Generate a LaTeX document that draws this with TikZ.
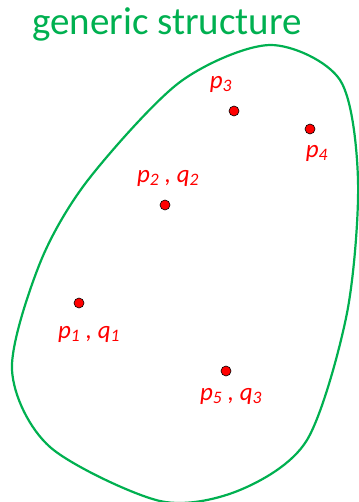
\documentclass[tikz,border=0pt]{standalone}
\usepackage{fontspec}
\setmainfont{Carlito}
\usepackage{xcolor}
\usepackage{tikz}
\definecolor{officegreen}{RGB}{0,176,80}
\tikzstyle{pt} = [circle, fill=red, draw=black, line width=0.6pt, inner sep=0pt, minimum size=10pt]
\tikzstyle{lab} = [text=red, font=\fontsize{25}{30}\selectfont\itshape, inner sep=0pt]

\begin{document}
\begin{tikzpicture}[x=1pt, y=-1pt, node distance=27pt]
    \useasboundingbox (0,0) rectangle (358,502);
    \node (title) at (167,24) [text=officegreen, font=\fontsize{39}{46}\selectfont] {generic structure};

    % the set
    \draw[officegreen, line width=2.2pt] plot[smooth cycle] coordinates {
        (270,45) (340,80) (358,180) (347,313) (307,440) (240,490) (160,501)
        (50,447) (12,370) (40,263) (88,180) (180,82)};

    % points
    \node (p1) at (79,303) [pt] {};
    \node (p2) at (165,205) [pt] {};
    \node (p3) at (234,111) [pt] {};
    \node (p4) at (310,129) [pt] {};
    \node (p5) at (226,371) [pt] {};

    % labels
    \node (l1) [below of=p1, xshift=10pt, yshift=-4pt, lab] {p\textsubscript{1} , q\textsubscript{1}};
    \node (l2) [above of=p2, xshift=3pt, lab] {p\textsubscript{2} , q\textsubscript{2}};
    \node (l3) [above of=p3, xshift=-13pt, lab] {p\textsubscript{3}};
    \node (l4) [below of=p4, xshift=7pt, yshift=3pt, lab] {p\textsubscript{4}};
    \node (l5) [below of=p5, xshift=5pt, yshift=2pt, lab] {p\textsubscript{5} , q\textsubscript{3}};
\end{tikzpicture}
\end{document}
